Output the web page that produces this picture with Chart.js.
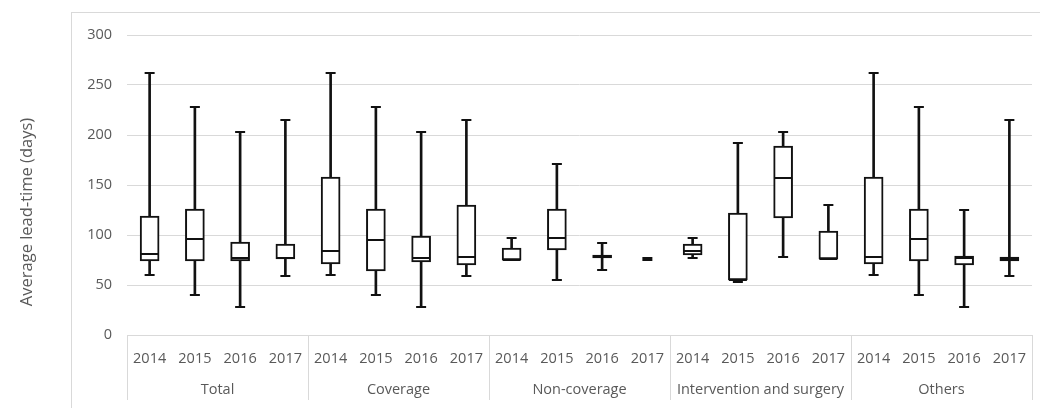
<!DOCTYPE html>
<html>
<head>
<meta charset="utf-8">
<script src="https://cdn.jsdelivr.net/npm/chart.js@4"></script>
<style>
html,body{margin:0;padding:0;background:#fff;}
#wrap{width:1040px;height:408px;position:relative;}
</style>
</head>
<body>
<div id="wrap"><canvas id="c" width="1040" height="408"></canvas></div>
<script>
// ---- data ----
const groups = ['Total', 'Coverage', 'Non-coverage', 'Intervention and surgery', 'Others'];
const years = ['2014', '2015', '2016', '2017',
               '2014', '2015', '2016', '2017',
               '2014', '2015', '2016', '2017',
               '2014', '2015', '2016', '2017',
               '2014', '2015', '2016', '2017'];
const minVals = [60, 40, 28, 59,   60, 40, 28, 59,   75, 55, 65, 75,   77, 53, 78, 76,   60, 40, 28, 59];
const q1Vals  = [74, 74, 74, 76,   71, 64, 73, 70,   75, 85, 77, null, 80, 55, 117, 76, 71, 74, 70, 74];
const medVals = [81, 96, 77, 77,   84, 95, 77, 78,   75, 97, 78, null, 84, 55, 157, 76, 78, 96, 77, 76];
const q3Vals  = [119, 126, 93, 91, 158, 126, 99, 130, 87, 126, 80, null, 91, 122, 189, 104, 158, 126, 79, 78];
const maxVals = [262, 228, 203, 215, 262, 228, 203, 215, 97, 171, 92, 77, 97, 192, 203, 130, 262, 228, 125, 215];
const yTicks = [0, 50, 100, 150, 200, 250, 300];
const yTitle = 'Average lead-time (days)';

// ---- style ----
const INK = '#111111';
const TXT = '#595959';
const GRID = '#d9d9d9';
const FONT = 'Open Sans';

const boxData = q1Vals.map((q, i) => (q === null ? null : [q, q3Vals[i]]));
const whiskerData = minVals.map((m, i) => [m, maxVals[i]]);

const decorPlugin = {
  id: 'decor',
  beforeDraw(chart) {
    const ctx = chart.ctx;
    ctx.save();
    ctx.strokeStyle = GRID;
    ctx.lineWidth = 1;
    ctx.strokeRect(71.5, 12.5, 1100, 500);
    ctx.restore();
  },
  afterDatasetsDraw(chart) {
    const ctx = chart.ctx;
    const y = chart.scales.y;
    const meta = chart.getDatasetMeta(1);
    ctx.save();
    ctx.strokeStyle = INK;
    ctx.lineWidth = 2;
    meta.data.forEach((el, i) => {
      const x = el.x;
      [minVals[i], maxVals[i]].forEach(v => {
        const py = Math.round(y.getPixelForValue(v));
        ctx.beginPath();
        ctx.moveTo(x - 5, py);
        ctx.lineTo(x + 5, py);
        ctx.stroke();
      });
      if (medVals[i] !== null) {
        const py = Math.round(y.getPixelForValue(medVals[i]));
        ctx.beginPath();
        ctx.moveTo(x - 9, py);
        ctx.lineTo(x + 9, py);
        ctx.stroke();
      }
    });
    ctx.restore();
  },
  afterDraw(chart) {
    const ctx = chart.ctx;
    const xs = chart.scales.x;
    const area = chart.chartArea;
    const n = years.length;
    const per = n / groups.length;
    const catW = (xs.right - xs.left) / n;
    ctx.save();
    ctx.strokeStyle = GRID;
    ctx.lineWidth = 1;
    for (let g = 0; g <= groups.length; g++) {
      const px = Math.round(xs.left + g * per * catW) + 0.5;
      ctx.beginPath();
      ctx.moveTo(px, area.bottom);
      ctx.lineTo(px, 400);
      ctx.stroke();
    }
    ctx.fillStyle = TXT;
    ctx.font = '14.5px "' + FONT + '"';
    ctx.textAlign = 'center';
    ctx.textBaseline = 'middle';
    groups.forEach((g, k) => {
      const cx = xs.left + (k + 0.5) * per * catW;
      ctx.fillText(g, cx, 390);
    });
    ctx.font = '16.5px "' + FONT + '"';
    ctx.translate(27, 212);
    ctx.rotate(-Math.PI / 2);
    ctx.fillText(yTitle, 0, 0);
    ctx.restore();
  }
};

new Chart(document.getElementById('c'), {
  type: 'bar',
  data: {
    labels: years,
    datasets: [
      {
        label: 'box',
        data: boxData,
        backgroundColor: '#ffffff',
        borderColor: INK,
        borderWidth: 2,
        borderSkipped: false,
        barThickness: 19,
        grouped: false,
        order: 0
      },
      {
        label: 'whisker',
        data: whiskerData,
        backgroundColor: INK,
        borderWidth: 0,
        barThickness: 2,
        grouped: false,
        order: 1
      }
    ]
  },
  options: {
    responsive: false,
    animation: false,
    layout: { padding: { left: 0, top: 35, right: 8, bottom: 0 } },
    plugins: { legend: { display: false }, tooltip: { enabled: false } },
    scales: {
      x: {
        type: 'category',
        offset: true,
        grid: { display: false },
        border: { display: true, color: GRID, width: 1 },
        ticks: { color: TXT, font: { family: FONT, size: 14.5 }, padding: 7, maxRotation: 0, autoSkip: false },
        afterFit: s => { s.height = 73; }
      },
      y: {
        min: 0,
        max: 300,
        afterBuildTicks: s => { s.ticks = yTicks.map(v => ({ value: v })); },
        ticks: { color: TXT, font: { family: FONT, size: 14.5 }, padding: 15 },
        grid: { color: GRID, drawTicks: false },
        border: { display: false },
        afterFit: s => { s.width = 127; }
      }
    }
  },
  plugins: [decorPlugin]
});
</script>
</body>
</html>
